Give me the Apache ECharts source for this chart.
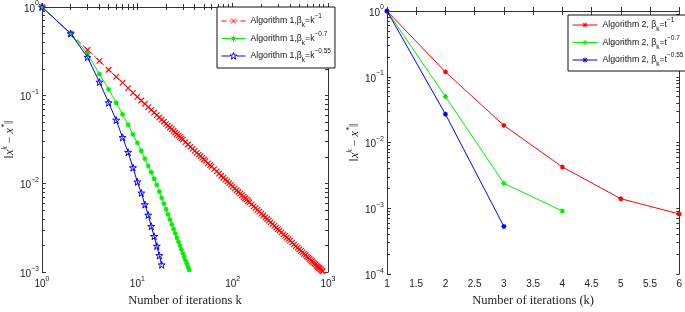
<!DOCTYPE html>
<html>
<head>
<meta charset="utf-8">
<script src="https://cdn.jsdelivr.net/npm/echarts@6/dist/echarts.min.js"></script>
<style>
  html, body { margin: 0; padding: 0; background: #fff; }
  #main { width: 685px; height: 312px; }
</style>
</head>
<body>
<div id="main"></div>
<script>
// left panel: Algorithm 1, log-log
var redK = [1, 2, 3, 4, 5, 6, 7, 8, 9, 10, 11, 12, 13, 14, 15, 16, 17, 18, 19, 20,
  21, 22, 23, 24, 25, 26, 27, 28, 29, 30, 32, 34, 36, 38, 40, 42, 44, 46, 48, 50,
  52, 55, 58, 60, 64, 68, 72, 76, 80, 84, 88, 92, 96, 100, 105, 110, 115, 120, 125, 130,
  135, 140, 145, 150, 158, 166, 174, 182, 190, 200, 210, 220, 230, 240, 250, 262, 274, 286, 298, 310,
  325, 340, 355, 370, 385, 400, 420, 440, 460, 480, 500, 520, 540, 560, 580, 600, 620, 640, 660, 680,
  700, 720, 740, 760, 780, 800, 820, 840, 860, 880];
var redV = [1, 0.5, 0.328, 0.245, 0.195, 0.162, 0.139, 0.121, 0.107, 0.0964, 0.0875, 0.0801, 0.0738, 0.0685, 0.0639, 0.0598, 0.0562, 0.0531, 0.0503, 0.0477,
  0.0454, 0.0433, 0.0414, 0.0396, 0.038, 0.0365, 0.0351, 0.0339, 0.0327, 0.0316, 0.0296, 0.0278, 0.0262, 0.0248, 0.0236, 0.0224, 0.0214, 0.0205, 0.0196, 0.0188,
  0.0181, 0.017, 0.0162, 0.0156, 0.01464, 0.01377, 0.013, 0.01231, 0.01169, 0.01112, 0.01061, 0.01015, 0.00972, 0.00929, 0.00884, 0.00844, 0.00806, 0.00772, 0.00741, 0.00712,
  0.00685, 0.0066, 0.00637, 0.00616, 0.00584, 0.00555, 0.00529, 0.00506, 0.00484, 0.0046, 0.00437, 0.00417, 0.00399, 0.00382, 0.00366, 0.00349, 0.00334, 0.00319, 0.00306, 0.00295,
  0.00281, 0.00268, 0.00257, 0.00246, 0.00236, 0.00227, 0.00216, 0.00206, 0.00197, 0.00189, 0.00181, 0.00174, 0.00167, 0.00161, 0.00156, 0.0015, 0.00146, 0.00141, 0.00137, 0.00132,
  0.00129, 0.00125, 0.00122, 0.00118, 0.00115, 0.00112, 0.0011, 0.00107, 0.00104, 0.00102];
var greenV = [1, 0.5, 0.297, 0.174, 0.117, 0.0826, 0.061, 0.0464, 0.0362, 0.029, 0.0236, 0.0192, 0.0159, 0.0135, 0.0114, 0.0097, 0.00814, 0.00693, 0.00595, 0.00514,
  0.00448, 0.00393, 0.00347, 0.00307, 0.00274, 0.00245, 0.0022, 0.00199, 0.0018, 0.00163, 0.00149, 0.00136, 0.00125, 0.00115, 0.00106];
var blueV = [1, 0.5, 0.27, 0.1415, 0.0826, 0.0525, 0.0334, 0.0227, 0.0152, 0.0105, 0.00787, 0.0058, 0.00442, 0.0033, 0.00254, 0.00197, 0.00154, 0.00121];

// right panel: Algorithm 2, k = 1..6
var red2V = [1, 0.1185, 0.0182, 0.00425, 0.0014, 0.00082];
var green2V = [1, 0.05, 0.0024, 0.00091];
var blue2V = [1, 0.027, 0.00053];

var leftXTicks = [1, 10, 100, 1000];
var leftYTicks = [0.001, 0.01, 0.1, 1];
var rightXTicks = [1, 1.5, 2, 2.5, 3, 3.5, 4, 4.5, 5, 5.5, 6];
var rightYTicks = [0.0001, 0.001, 0.01, 0.1, 1];

var legendText = {
  a11: '{t|Algorithm 1,β}{sb|k}{t|=k}{sp|−1}',
  a107: '{t|Algorithm 1,β}{sb|k}{t|=k}{sp|−0.7}',
  a1055: '{t|Algorithm 1,β}{sb|k}{t|=k}{sp|−0.55}',
  a21: '{t|Algorithm 2, β}{sb|k}{t|=t}{sp|−1}',
  a207: '{t|Algorithm 2, β}{sb|k}{t|=t}{sp|−0.7}',
  a2055: '{t|Algorithm 2, β}{sb|k}{t|=t}{sp|−0.55}'
};

var RED = '#ff0000', GREEN = '#00ee00', BLUE = '#0000ff', AXIS = '#333';
var CLEAR = 'rgba(255,255,255,0)';
var crossPath = 'path://M0,0L10,10M10,0L0,10';
var starPath = 'path://M5,0L6.2,3.6L10,3.6L6.9,5.9L8.1,9.5L5,7.3L1.9,9.5L3.1,5.9L0,3.6L3.8,3.6Z';
var asterPath = 'path://M5,0L5,10M0,5L10,5M1.5,1.5L8.5,8.5M8.5,1.5L1.5,8.5';

// legend samples: line + marker (24x8 box, zero-length corners pin the bounds)
var iconRed1 = 'path://M0,0L0,0M24,8L24,8M0,4L5,4M8,4L9.5,4M14.5,4L16,4M19,4L24,4M9.5,1.5L14.5,6.5M14.5,1.5L9.5,6.5';
var iconGreen1 = 'path://M0,0L0,0M24,8L24,8M0,4L24,4M12,1L12,7M9,4L15,4M9.9,1.9L14.1,6.1M14.1,1.9L9.9,6.1';
var iconBlue1 = 'path://M0,0L0,0M24,8L24,8M0,4L8.5,4M15.5,4L24,4M12,0.5L12.84,3.02L15.5,3.02L13.33,4.63L14.17,7.15L12,5.61L9.83,7.15L10.67,4.63L8.5,3.02L11.16,3.02Z';
var icon2 = 'path://M0,0L0,0M25,8L25,8M0,4L25,4M12.5,1.5L12.5,6.5M10,4L15,4M10.7,2.2L14.3,5.8M14.3,2.2L10.7,5.8';

// minor tick positions (1..9 per decade), in log10 units for the box axes
function decadeTicks(lo, hi) {
  var out = [];
  for (var e = lo; e < hi; e++) {
    for (var m = 1; m < 10; m++) out.push(e + Math.log10(m));
  }
  out.push(hi);
  return out;
}

function expLabel(v) {
  var e = Math.round(Math.log10(v));
  return '{b|10}{s|' + (e < 0 ? '−' + (-e) : e) + '}';
}

var labelRich = {
  b: { fontSize: 10, fontFamily: 'Liberation Sans', color: '#222', lineHeight: 14, verticalAlign: 'bottom' },
  s: { fontSize: 7, fontFamily: 'Liberation Sans', color: '#222', lineHeight: 8, verticalAlign: 'top' }
};

var nameRich = {
  n: { fontSize: 12, fontFamily: 'Liberation Serif', color: '#222', lineHeight: 15, verticalAlign: 'bottom' },
  i: { fontSize: 12, fontFamily: 'Liberation Serif', fontStyle: 'italic', color: '#222', lineHeight: 15, verticalAlign: 'bottom' },
  p: { fontSize: 8, fontFamily: 'Liberation Serif', fontStyle: 'italic', color: '#222', lineHeight: 9, verticalAlign: 'top' }
};
var yName = '{n|‖}{i|x}{p|k}{n| − }{i|x}{p|*}{n|‖}';

var legendRich = {
  t: { fontSize: 8.7, fontFamily: 'Liberation Sans', color: '#111', lineHeight: 16, verticalAlign: 'middle' },
  sb: { fontSize: 6.5, fontFamily: 'Liberation Sans', color: '#111', lineHeight: 5, verticalAlign: 'bottom' },
  sp: { fontSize: 6.5, fontFamily: 'Liberation Sans', color: '#111', lineHeight: 8, verticalAlign: 'top' }
};

var nameStyle = { fontFamily: 'Liberation Serif', fontSize: 12.5, color: '#222' };

// data axis: major ticks + labels
function dataAxis(base, extra) {
  return Object.assign({
    axisLine: { show: true, lineStyle: { color: AXIS, width: 1 } },
    axisTick: { show: true, inside: true, length: 4, lineStyle: { color: AXIS } },
    splitLine: { show: false },
    axisLabel: { show: false }
  }, base, extra);
}

// decorative axis in log10 units, only minor ticks
function minorAxis(gridIndex, pos, lo, hi) {
  return {
    gridIndex: gridIndex, type: 'value', position: pos, min: lo, max: hi,
    axisLine: { show: true, lineStyle: { color: AXIS, width: 1 } },
    axisTick: { show: true, inside: true, length: 3, lineStyle: { color: AXIS }, customValues: decadeTicks(lo, hi) },
    axisLabel: { show: false },
    splitLine: { show: false }
  };
}

function pairs(ks, vs) {
  return vs.map(function (v, i) { return [ks ? ks[i] : i + 1, v]; });
}

function legendItem(name, icon, color, fill) {
  return { name: name, icon: icon, itemStyle: { color: fill || color, borderColor: color, borderWidth: 1 } };
}

var chart = echarts.init(document.getElementById('main'), null, { renderer: 'canvas' });

var legendBase = {
  orient: 'vertical', itemGap: 1.5, itemHeight: 8,
  borderColor: '#111', borderWidth: 1, backgroundColor: '#fff',
  formatter: function (n) { return legendText[n]; },
  textStyle: { rich: legendRich }
};

var option = {
  animation: false,
  backgroundColor: '#fff',
  grid: [
    { left: 33, top: 6, width: 295, height: 278 },
    { left: 387, top: 11, width: 295, height: 273 }
  ],
  xAxis: [
    dataAxis({ gridIndex: 0, type: 'log', logBase: 10, min: 1, max: 1000, position: 'bottom' }, {
      axisLabel: { show: true, customValues: leftXTicks, formatter: expLabel, rich: labelRich, margin: 3 },
      name: 'Number of iterations k', nameLocation: 'middle', nameGap: 16, nameTextStyle: nameStyle
    }),
    minorAxis(0, 'bottom', 0, 3),
    minorAxis(0, 'top', 0, 3),
    dataAxis({ gridIndex: 1, type: 'value', min: 1, max: 6, interval: 0.5, position: 'bottom' }, {
      axisLabel: { show: true, customValues: rightXTicks, fontSize: 10, fontFamily: 'Liberation Sans', color: '#222', margin: 5 },
      name: 'Number of iterations (k)', nameLocation: 'middle', nameGap: 16, nameTextStyle: nameStyle
    }),
    dataAxis({ gridIndex: 1, type: 'value', min: 1, max: 6, interval: 0.5, position: 'top' })
  ],
  yAxis: [
    dataAxis({ gridIndex: 0, type: 'log', logBase: 10, min: 0.001, max: 1, position: 'left' }, {
      axisLabel: { show: true, customValues: leftYTicks, formatter: expLabel, rich: labelRich, margin: 3 },
      name: yName, nameLocation: 'middle', nameGap: 20, nameTextStyle: { rich: nameRich }
    }),
    minorAxis(0, 'left', -3, 0),
    minorAxis(0, 'right', -3, 0),
    dataAxis({ gridIndex: 1, type: 'log', logBase: 10, min: 0.0001, max: 1, position: 'left' }, {
      axisLabel: { show: true, customValues: rightYTicks, formatter: expLabel, rich: labelRich, margin: 3 },
      name: yName, nameLocation: 'middle', nameGap: 19, nameTextStyle: { rich: nameRich }
    }),
    minorAxis(1, 'left', -4, 0),
    minorAxis(1, 'right', -4, 0)
  ],
  legend: [
    Object.assign({}, legendBase, {
      data: [
        legendItem('a11', iconRed1, RED),
        legendItem('a107', iconGreen1, GREEN),
        legendItem('a1055', iconBlue1, BLUE, CLEAR)
      ],
      left: 217, top: 7, itemWidth: 24, padding: [6, 4, 4, 4]
    }),
    Object.assign({}, legendBase, {
      data: [
        legendItem('a21', icon2, RED),
        legendItem('a207', icon2, GREEN),
        legendItem('a2055', icon2, BLUE)
      ],
      left: 568, top: 15, itemWidth: 25, padding: [2, 4, 3, 4]
    })
  ],
  series: [
    {
      name: 'a11', type: 'line', xAxisIndex: 0, yAxisIndex: 0, data: pairs(redK, redV),
      symbol: crossPath, symbolSize: 5.5, showAllSymbol: true,
      lineStyle: { color: RED, width: 1, type: [5, 3] },
      itemStyle: { color: RED, borderColor: RED, borderWidth: 1.1 }
    },
    {
      name: 'a107', type: 'line', xAxisIndex: 0, yAxisIndex: 0, data: pairs(null, greenV),
      symbol: asterPath, symbolSize: 5, showAllSymbol: true,
      lineStyle: { color: GREEN, width: 1 },
      itemStyle: { color: GREEN, borderColor: GREEN, borderWidth: 1.2 }
    },
    {
      name: 'a1055', type: 'line', xAxisIndex: 0, yAxisIndex: 0, data: pairs(null, blueV),
      symbol: starPath, symbolSize: 7, showAllSymbol: true,
      lineStyle: { color: BLUE, width: 1 },
      itemStyle: { color: CLEAR, borderColor: BLUE, borderWidth: 1 }
    },
    {
      name: 'a21', type: 'line', xAxisIndex: 3, yAxisIndex: 3, data: pairs(null, red2V),
      symbol: asterPath, symbolSize: 5,
      lineStyle: { color: RED, width: 1 },
      itemStyle: { color: RED, borderColor: RED, borderWidth: 1.2 }
    },
    {
      name: 'a207', type: 'line', xAxisIndex: 3, yAxisIndex: 3, data: pairs(null, green2V),
      symbol: asterPath, symbolSize: 5,
      lineStyle: { color: GREEN, width: 1 },
      itemStyle: { color: GREEN, borderColor: GREEN, borderWidth: 1.2 }
    },
    {
      name: 'a2055', type: 'line', xAxisIndex: 3, yAxisIndex: 3, data: pairs(null, blue2V),
      symbol: asterPath, symbolSize: 5,
      lineStyle: { color: BLUE, width: 1 },
      itemStyle: { color: BLUE, borderColor: BLUE, borderWidth: 1.2 }
    }
  ]
};

chart.setOption(option);
</script>
</body>
</html>
